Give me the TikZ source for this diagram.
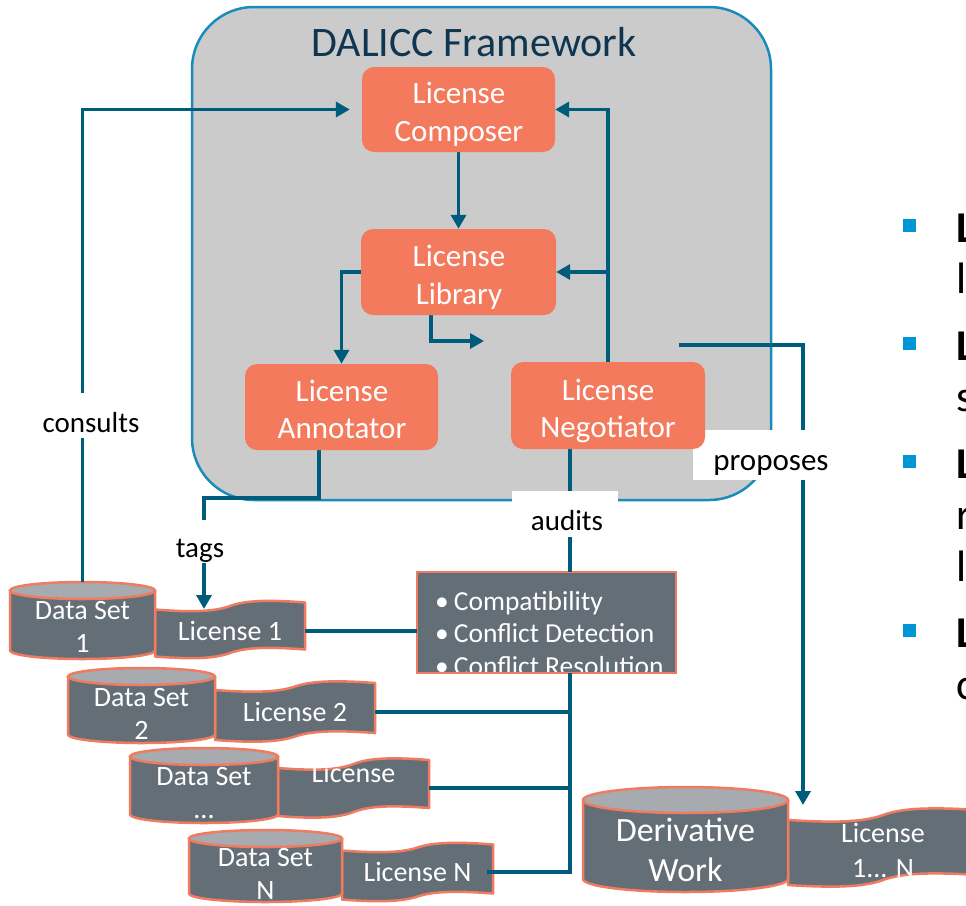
\documentclass[tikz,border=0pt]{standalone}
\usepackage{fontspec}
\setmainfont{Carlito}
\usetikzlibrary{arrows.meta,calc}
\definecolor{frameblue}{HTML}{1A8CBB}
\definecolor{framefill}{HTML}{CBCBCB}
\definecolor{titleblue}{HTML}{0F3550}
\definecolor{boxorange}{HTML}{F47A5E}
\definecolor{connblue}{HTML}{005C7C}
\definecolor{slate}{HTML}{646E77}
\definecolor{slatetop}{HTML}{A7ABB0}
\definecolor{orangeline}{HTML}{EF7B60}
\definecolor{bulletblue}{HTML}{0096D6}
\pgfdeclarelayer{back}\pgfdeclarelayer{shapes}\pgfdeclarelayer{lines}\pgfdeclarelayer{labels}
\pgfsetlayers{back,shapes,lines,labels,main}
\tikzset{
 obox/.style={rectangle, rounded corners=12pt, fill=boxorange, inner sep=0pt},
 oboxtxt/.style={text=white, inner sep=0pt, anchor=base, font=\fontsize{31}{38}\selectfont},
 conn/.style={draw=connblue, line width=3.5pt},
 arr/.style={-{Triangle[length=14pt,width=15pt]}},
 lbl/.style={text=black, font=\fontsize{29}{31}\selectfont, inner sep=0pt},
 cylbody/.style={fill=slate, draw=orangeline, line width=2.5pt, line join=round},
 cyltop/.style={fill=slatetop, draw=orangeline, line width=2.5pt},
 tapesty/.style={fill=slate, draw=orangeline, line width=2.5pt, line join=round},
 shapetext/.style={text=white, align=center, inner sep=0pt, font=\fontsize{28}{33}\selectfont},
 audtxt/.style={anchor=base west, text=white, inner sep=0pt, font=\fontsize{27.5}{30}\selectfont},
 rtext/.style={text=black, inner sep=0pt, anchor=base west, font=\fontsize{44}{50}\selectfont},
}
% cylinder: x0, x1, ytop, ybottom, r
\newcommand\cylshape[5]{%
 \pgfmathsetmacro\cxc{(#1+#2)/2}%
 \pgfmathsetmacro\crx{(#2-#1)/2}%
 \pgfmathsetmacro\cyA{#3+#5}%
 \pgfmathsetmacro\cyB{#4-#5}%
 \pgfmathsetmacro\ckx{0.5523*\crx}%
 \pgfmathsetmacro\cky{0.5523*#5}%
 \filldraw[cylbody] (#1,\cyA) -- (#1,\cyB) .. controls (#1,{\cyB+\cky}) and ({\cxc-\ckx},#4) .. (\cxc,#4)
   .. controls ({\cxc+\ckx},#4) and (#2,{\cyB+\cky}) .. (#2,\cyB) -- (#2,\cyA) -- cycle;
 \filldraw[cyltop] (\cxc,\cyA) ellipse [x radius=\crx pt, y radius=#5pt];
}
% tape: x0, x1, ymid, height, half-step
\newcommand\tapeshape[5]{%
 \pgfmathsetmacro\tw{#2-#1}%
 \filldraw[tapesty] (#1,{#3+#5}) .. controls ({#1+0.25*\tw},{#3+#5+3}) and ({#1+0.4*\tw},{#3+#5+2}) .. ({#1+0.5*\tw},#3)
   .. controls ({#1+0.6*\tw},{#3-#5-2}) and ({#1+0.75*\tw},{#3-#5-3}) .. (#2,{#3-#5})
   -- (#2,{#3-#5+#4})
   .. controls ({#1+0.75*\tw},{#3-#5-3+#4}) and ({#1+0.6*\tw},{#3-#5-2+#4}) .. ({#1+0.5*\tw},{#3+#4})
   .. controls ({#1+0.4*\tw},{#3+#5+2+#4}) and ({#1+0.25*\tw},{#3+#5+3+#4}) .. (#1,{#3+#5+#4}) -- cycle;
}
\begin{document}
\begin{tikzpicture}[x=1pt,y=-1pt]
\useasboundingbox (0,0) rectangle (966,905);

% frame
\begin{pgfonlayer}{back}
\node[draw=frameblue, fill=framefill, line width=2.5pt, rounded corners=62pt,
  minimum width=579pt, minimum height=493pt, inner sep=0pt] (frame) at (481.5,253.5) {};
\end{pgfonlayer}
\node[text=titleblue, font=\fontsize{42}{45}\selectfont, inner sep=0pt] (title) at (474,42) {DALICC Framework};

% orange component boxes
\node[obox, minimum width=193pt, minimum height=85pt] (comp) at (458.5,109.5) {};
\node[obox, minimum width=195pt, minimum height=86pt] (lib) at (458.5,272) {};
\node[obox, minimum width=193pt, minimum height=86pt] (ann) at (341.5,407) {};
\node[obox, minimum width=194pt, minimum height=87pt] (neg) at (608,405.5) {};
\node[oboxtxt] (compa) at (459,103) {License};
\node[oboxtxt] (compb) at (459,141) {Composer};
\node[oboxtxt] (liba) at (459,266) {License};
\node[oboxtxt] (libb) at (459,304) {Library};
\node[oboxtxt] (anna) at (342,401) {License};
\node[oboxtxt] (annb) at (342,438) {Annotator};
\node[oboxtxt] (nega) at (608,400) {License};
\node[oboxtxt] (negb) at (608,437) {Negotiator};

% data sets, licenses, audit box
\begin{pgfonlayer}{shapes}
\tapeshape{155}{305}{606}{47}{3.5}
\tapeshape{215}{375}{686.5}{50}{3.5}
\tapeshape{278}{429}{764}{48}{4}
\tapeshape{342}{493}{847.5}{49}{3}
\tapeshape{788}{978}{815}{65}{5}
\cylshape{10}{155}{582}{659}{8.5}
\cylshape{68}{215}{668}{743}{8.5}
\cylshape{130}{278}{748}{823}{8.5}
\cylshape{189}{342}{830}{902}{8.5}
\cylshape{583}{788}{787}{892}{13}
\node[fill=slate, minimum width=259pt, minimum height=101pt, inner sep=0pt] (audit) at (546.5,622.5) {};
\begin{scope}
\clip (audit.south west) rectangle (audit.north east);
\node[audtxt] (a1) at (435,610) {\textbullet\hspace{5pt}Compatibility};
\node[audtxt] (a2) at (435,642) {\textbullet\hspace{5pt}Conflict Detection};
\node[audtxt] (a3) at (435,675) {\textbullet\hspace{5pt}Conflict Resolution};
\end{scope}
\draw[draw=orangeline, line width=2.5pt] (audit.south west) rectangle (audit.north east);
\end{pgfonlayer}

% named holders for cylinders and tapes, with their texts
\node[inner sep=0pt, minimum width=145pt, minimum height=77pt] (ds1) at (82.5,620.5) {};
\node[inner sep=0pt, minimum width=147pt, minimum height=75pt] (ds2) at (141.5,705.5) {};
\node[inner sep=0pt, minimum width=148pt, minimum height=75pt] (ds3) at (204,785.5) {};
\node[inner sep=0pt, minimum width=153pt, minimum height=72pt] (dsn) at (265.5,866) {};
\node[inner sep=0pt, minimum width=205pt, minimum height=105pt] (der) at (685.5,839.5) {};
\node[shapetext] (ds1t) at (82.5,626.5) {Data Set\\1};
\node[shapetext] (ds2t) at (141.5,713.5) {Data Set\\2};
\node[shapetext] (ds3t) at (204,793.5) {Data Set\\...};
\node[shapetext] (dsnt) at (265.5,874) {Data Set\\N};
\node[shapetext, font=\fontsize{34}{40}\selectfont] (dert) at (685.5,850) {Derivative\\Work};

\node[shapetext, minimum width=150pt, minimum height=54pt] (lic1) at (230,631) {License 1};
\node[shapetext, minimum width=160pt, minimum height=57pt] (lic2) at (295,712) {License 2};
\node[shapetext, minimum width=151pt, minimum height=56pt] (lic3) at (353.5,788) {};
\node[shapetext] (lic3t) at (353.5,773) {License};
\node[shapetext, minimum width=151pt, minimum height=54pt] (licn) at (417.5,872) {License N};
\node[shapetext, font=\fontsize{28}{35}\selectfont, minimum width=190pt, minimum height=75pt] (licd) at (883,850) {License\\1... N};

% connectors
\begin{pgfonlayer}{lines}
\draw[conn,arr] (ds1.north) |- ([xshift=-12pt]comp.west);
\draw[conn,arr] (comp.south) -- (lib.north);
\draw[conn,arr] (neg.north) |- (comp.east);
\draw[conn,arr] (neg.north |- lib.east) -- (lib.east);
\draw[conn,arr] (lib.west) -| (ann.north);
\coordinate (libout) at (484,341);
\draw[conn,arr] ([xshift=-27.5pt]lib.south) |- (libout);
\coordinate (tagbend) at (204,498);
\coordinate (tagend) at (204,609);
\draw[conn,arr] ([xshift=-22.5pt]ann.south) |- (tagbend) -- (tagend);
\draw[conn] ([xshift=-38pt]neg.south) -- ([xshift=-38pt]neg.south |- audit.north);
\coordinate (propstart) at (679,345);
\coordinate (propend) at (803,805);
\draw[conn,arr] (propstart) -| (propend);
\draw[conn] (lic1.east) -- (lic1.east -| audit.west);
\coordinate (bus) at ([xshift=23.5pt]audit.south);
\draw[conn] (bus) |- ([xshift=-6pt]licn.east);
\draw[conn] (lic2.east) -- (lic2.east -| bus);
\draw[conn] (lic3.east) -- (lic3.east -| bus);
\end{pgfonlayer}

% labels
\begin{pgfonlayer}{labels}
\fill[white] (40,393) rectangle (142,438);
\fill[white] (172,520) rectangle (228,563);
\fill[white] (512,491) rectangle (618,537);
\fill[white] (693,430) rectangle (849,480);
\node[lbl] (lconsults) at (91,423) {consults};
\node[lbl] (ltags) at (200,551) {tags};
\node[lbl] (laudits) at (567,521) {audits};
\node[lbl, font=\fontsize{31}{33}\selectfont] (lproposes) at (771,465) {proposes};
\end{pgfonlayer}

% bullet list on the right, cut by the picture's edge as in the reference
\foreach \yy in {225,343,461,630.5} \fill[bulletblue] (903,{\yy-6.5}) rectangle (916,{\yy+6.5});
\node[rtext] (r1) at (956,242) {\textbf{L}};
\node[rtext] (r1b) at (956,293.5) {li};
\node[rtext] (r2) at (956,360) {\textbf{L}};
\node[rtext] (r2b) at (956,411.5) {s};
\node[rtext] (r3) at (956,478) {\textbf{L}};
\node[rtext] (r3b) at (956,529.5) {r};
\node[rtext] (r3c) at (956,581) {li};
\node[rtext] (r4) at (956,647.5) {\textbf{L}};
\node[rtext] (r4b) at (956,699) {c};
\end{tikzpicture}
\end{document}
